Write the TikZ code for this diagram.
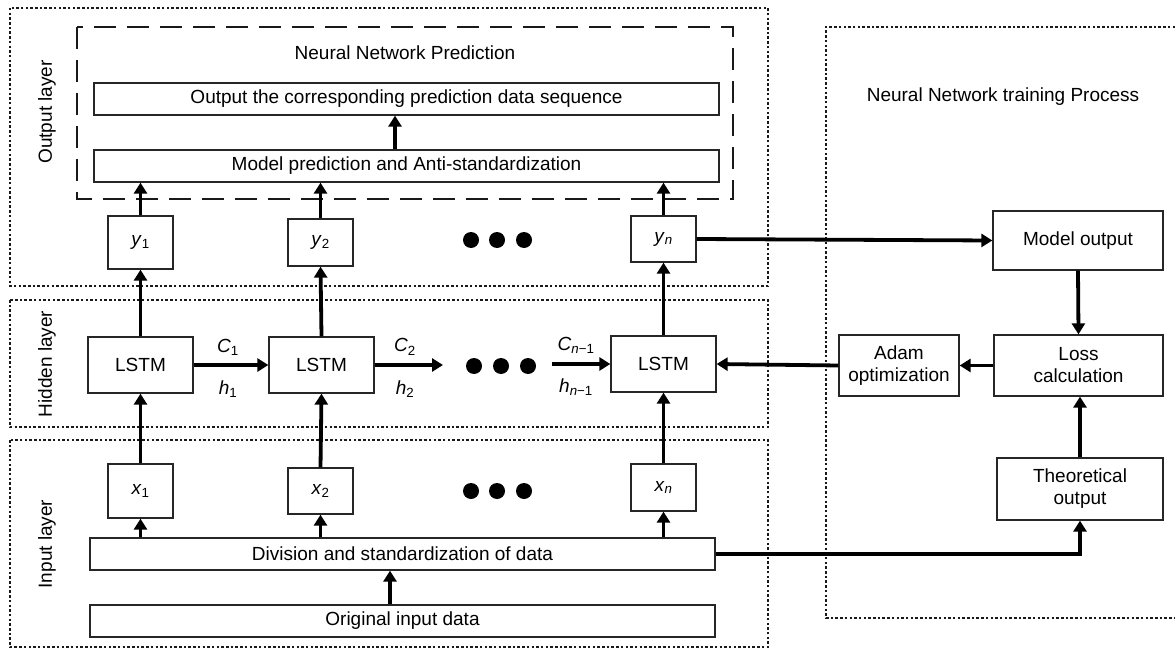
\documentclass[tikz,border=0pt]{standalone}
\usepackage{fontspec}
\setmainfont{Liberation Sans}
\usetikzlibrary{arrows.meta}
\tikzset{
  box/.style={draw=black!85, line width=1.3pt, inner sep=0pt, align=center, fill=white},
  arr/.style={line width=3.8pt, -{Triangle[length=11pt,width=13pt]}},
  layerbox/.style={line width=2.3pt, dash pattern=on 2.5pt off 2.2pt, black!90},
  predbox/.style={line width=2.5pt, dash pattern=on 22pt off 11pt, black!90},
  lbl/.style={inner sep=0pt}
}
\begin{document}
\begin{tikzpicture}[x=1pt,y=-1pt,font=\fontsize{19}{22}\selectfont]
\useasboundingbox (0,0) rectangle (1175,650);
% layer frames
\draw[layerbox] (10,8) rectangle (768,286);
\draw[layerbox] (10,300) rectangle (768,427);
\draw[layerbox] (10,440) rectangle (768,647);
\draw[layerbox] (1175,27) -- (826,27) -- (826,618) -- (1175,618);
\draw[predbox] (77,27) rectangle (733,199);

\node[rotate=90] (lo) at (47,112) {Output layer};
\node[rotate=90] (lh) at (47,364) {Hidden layer};
\node[rotate=90] (li) at (47,544) {Input layer};
\node (tp) at (405,53) {Neural Network Prediction};
\node (tt) at (1003,97) {Neural Network training Process};

% output layer
\node[box, minimum width=625pt, minimum height=32pt] (out) at (406.5,99) {Output the corresponding prediction data sequence};
\node[box, minimum width=625pt, minimum height=32pt] (mp) at (406.5,166) {Model prediction and Anti-standardization};
\node[box, minimum width=65pt, minimum height=53pt] (y1) at (140.5,242.5) {\textit{y}\textsubscript{1}};
\node[box, minimum width=65pt, minimum height=47pt] (y2) at (320.5,242.5) {\textit{y}\textsubscript{2}};
\node[box, minimum width=65pt, minimum height=46pt] (yn) at (663.5,239) {\textit{y}\textsubscript{\textit{n}}};

% hidden layer
\node[box, minimum width=105pt, minimum height=56pt] (l1) at (140.5,365) {LSTM};
\node[box, minimum width=105pt, minimum height=56pt] (l2) at (321.5,365) {LSTM};
\node[box, minimum width=105pt, minimum height=56pt] (ln) at (663.5,364) {LSTM};

% input layer
\node[box, minimum width=65pt, minimum height=54pt] (x1) at (140.5,491) {\textit{x}\textsubscript{1}};
\node[box, minimum width=65pt, minimum height=46pt] (x2) at (320.5,491) {\textit{x}\textsubscript{2}};
\node[box, minimum width=65pt, minimum height=47pt] (xn) at (663.5,487.5) {\textit{x}\textsubscript{\textit{n}}};
\node[box, minimum width=625pt, minimum height=32pt] (div) at (402.5,554) {Division and standardization of data};
\node[box, minimum width=625pt, minimum height=32pt] (orig) at (402.5,621) {Original input data};

% training process
\node[box, minimum width=170pt, minimum height=59pt] (mo) at (1078,240.5) {Model output};
\node[box, minimum width=169pt, minimum height=61pt] (loss) at (1078.5,365.5) {Loss\\calculation};
\node[box, minimum width=120pt, minimum height=61pt] (adam) at (899,365.5) {Adam\\optimization};
\node[box, minimum width=166pt, minimum height=62pt] (theo) at (1080,489) {Theoretical\\output};

% dots
\foreach \x in {471,497,524} {\fill (\x,240) circle (8pt);}
\foreach \x in {474,501,528} {\fill (\x,366) circle (8pt);}
\foreach \x in {471,497,524} {\fill (\x,491) circle (8pt);}

% state labels
\node[lbl] (c1) at (228,347) {\textit{C}\textsubscript{1}};
\node[lbl] (h1) at (228,389) {\textit{h}\textsubscript{1}};
\node[lbl] (c2) at (405,347) {\textit{C}\textsubscript{2}};
\node[lbl] (h2) at (405,389) {\textit{h}\textsubscript{2}};
\node[lbl] (cn) at (576,345) {\textit{C}\textsubscript{\textit{n}−1}};
\node[lbl] (hn) at (576,387) {\textit{h}\textsubscript{\textit{n}−1}};

\coordinate (e2) at (443,365);
\coordinate (sn) at (552,364);

% arrows
\draw[arr] ([xshift=-11.5pt]mp.north) -- ([xshift=-11.5pt]out.south);
\draw[arr] (y1.north) -- (y1.north |- mp.south);
\draw[arr] (y2.north) -- (y2.north |- mp.south);
\draw[arr] (yn.north) -- (yn.north |- mp.south);
\draw[arr] (l1.north) -- (y1.south);
\draw[arr] (l2.north) -- (y2.south);
\draw[arr] (ln.north) -- (yn.south);
\draw[arr] (x1.north) -- (l1.south);
\draw[arr] (x2.north) -- (l2.south);
\draw[arr] (xn.north) -- (ln.south);
\draw[arr] (x1.south |- div.north) -- (x1.south);
\draw[arr] (x2.south |- div.north) -- (x2.south);
\draw[arr] (xn.south |- div.north) -- (xn.south);
\draw[arr] ([xshift=-12.5pt]orig.north) -- ([xshift=-12.5pt]div.south);
\draw[arr] (l1.east) -- (l2.west);
\draw[arr] (l2.east) -- (e2);
\draw[arr] (sn) -- (ln.west);
\draw[arr] (adam.west) -- (ln.east);
\draw[arr] (loss.west) -- (adam.east);
\draw[arr] (yn.east) -- (mo.west);
\draw[arr] (mo.south) -- (loss.north);
\draw[arr] (theo.north) -- (theo.north |- loss.south);
\draw[arr] (div.east) -| (theo.south);
\end{tikzpicture}
\end{document}
